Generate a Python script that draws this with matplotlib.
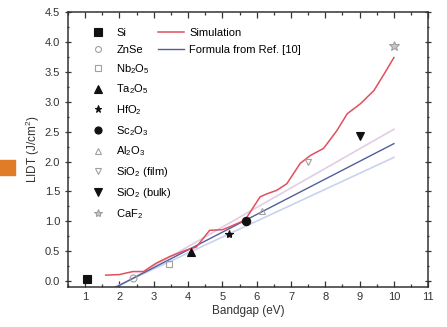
import matplotlib
matplotlib.use("Agg")
from matplotlib import pyplot as plt
from matplotlib.lines import Line2D
from matplotlib.patches import Rectangle
from matplotlib.ticker import MultipleLocator

plt.rcParams['font.family'] = ['Liberation Sans', 'DejaVu Sans']
plt.rcParams['mathtext.fontset'] = 'custom'
plt.rcParams['mathtext.rm'] = 'Liberation Sans'
plt.rcParams['mathtext.it'] = 'Liberation Sans'

# measured materials
names = ['Si', 'ZnSe', 'Nb$_2$O$_5$', 'Ta$_2$O$_5$', 'HfO$_2$', 'Sc$_2$O$_3$',
         'Al$_2$O$_3$', 'SiO$_2$ (film)', 'SiO$_2$ (bulk)', 'CaF$_2$']
gap = [1.05, 2.4, 3.45, 4.1, 5.2, 5.7, 6.15, 7.5, 9.0, 10.0]
lidt = [0.03, 0.05, 0.28, 0.48, 0.78, 1.0, 1.18, 2.0, 2.42, 3.93]
markers = ['s', 'o', 's', '^', '*', 'o', '^', 'v', 'v', '*']
filled = [True, False, False, True, True, True, False, False, True, False]
msizes = [6, 5, 5, 6, 6, 6, 5, 5, 6, 7]

# simulation curve
sim_x = [1.6, 2.0, 2.39, 2.7, 3.07, 3.46, 3.95, 4.24, 4.63, 5.0, 5.22, 5.66, 6.1,
         6.3, 6.59, 6.88, 7.27, 7.56, 7.95, 8.34, 8.64, 9.03, 9.42, 9.72, 10.0]
sim_y = [0.1, 0.11, 0.16, 0.16, 0.3, 0.41, 0.52, 0.57, 0.85, 0.86, 0.91, 1.02, 1.41,
         1.46, 1.52, 1.63, 1.97, 2.1, 2.22, 2.52, 2.8, 2.97, 3.19, 3.47, 3.74]

# formula line and its +/- band (end points)
f_x = [1.9, 10.0]
f_y = [-0.1, 2.3]
up_x = [1.93, 10.0]
up_y = [-0.1, 2.54]
lo_x = [1.86, 10.0]
lo_y = [-0.1, 2.07]

fig = plt.figure(figsize=(4.47, 3.27), dpi=100)
ax = fig.add_axes([0.152, 0.122, 0.806, 0.841])

ax.plot(up_x, up_y, color='#e2cde3', lw=1.2)
ax.plot(lo_x, lo_y, color='#c9d3ee', lw=1.2)
ax.plot(f_x, f_y, color='#4f5f9c', lw=1.0)
ax.plot(sim_x, sim_y, color='#e0505e', lw=1.1)

handles = []
for n, x, y, m, f, s in zip(names, gap, lidt, markers, filled, msizes):
    if f:
        fc, ec = '#111111', '#111111'
    else:
        fc, ec = 'none', '#a0a0a0'
    if n == 'CaF$_2$':
        fc = '#c8c8c8'
    ax.plot([x], [y], marker=m, ms=s, mfc=fc, mec=ec, mew=0.8, ls='none', zorder=5)
    handles.append(Line2D([], [], marker=m, ms=s * 0.85, mfc=fc, mec=ec, mew=0.8, ls='none'))

leg1 = ax.legend(handles, names, loc='upper left', bbox_to_anchor=(0.056, 0.958),
                 frameon=False, fontsize=8, handlelength=1.0, handletextpad=1.15,
                 labelspacing=0.62, borderaxespad=0)
ax.add_artist(leg1)
lh = [Line2D([], [], color='#e0505e', lw=1.1), Line2D([], [], color='#4f5f9c', lw=1.0)]
ax.legend(lh, ['Simulation', 'Formula from Ref. [10]'], loc='upper left',
          bbox_to_anchor=(0.237, 0.958), frameon=False, fontsize=8,
          handlelength=2.4, handletextpad=0.45, labelspacing=0.62, borderaxespad=0)

ax.set_xlim(0.5, 11)
ax.set_ylim(-0.1, 4.5)
ax.xaxis.set_major_locator(MultipleLocator(1))
ax.xaxis.set_minor_locator(MultipleLocator(0.5))
ax.yaxis.set_major_locator(MultipleLocator(0.5))
ax.yaxis.set_minor_locator(MultipleLocator(0.25))
ax.set_xticks(range(1, 12))
ax.set_yticks([0.0, 0.5, 1.0, 1.5, 2.0, 2.5, 3.0, 3.5, 4.0, 4.5])
ax.set_yticklabels(['0.0', '0.5', '1.0', '1.5', '2.0', '2.5', '3.0', '3.5', '4.0', '4.5'])
ax.tick_params(which='both', direction='in', top=True, right=True, labelsize=8,
               colors='#333333', width=0.9)
ax.tick_params(which='major', length=4)
ax.tick_params(which='minor', length=2)
ax.tick_params(axis='y', which='both', direction='inout')
for sp in ax.spines.values():
    sp.set_linewidth(1.1)
    sp.set_color('#333333')

ax.set_xlabel('Bandgap (eV)', fontsize=8.5, color='#333333', labelpad=2)
ax.set_ylabel('LIDT (J/cm$^2$)', fontsize=8.5, color='#333333', labelpad=2)

fig.patches.append(Rectangle((0, 1 - 175 / 327), 15 / 447, 15 / 327,
                             transform=fig.transFigure, color='#e07b28'))

fig.savefig('out.png', dpi=100)
